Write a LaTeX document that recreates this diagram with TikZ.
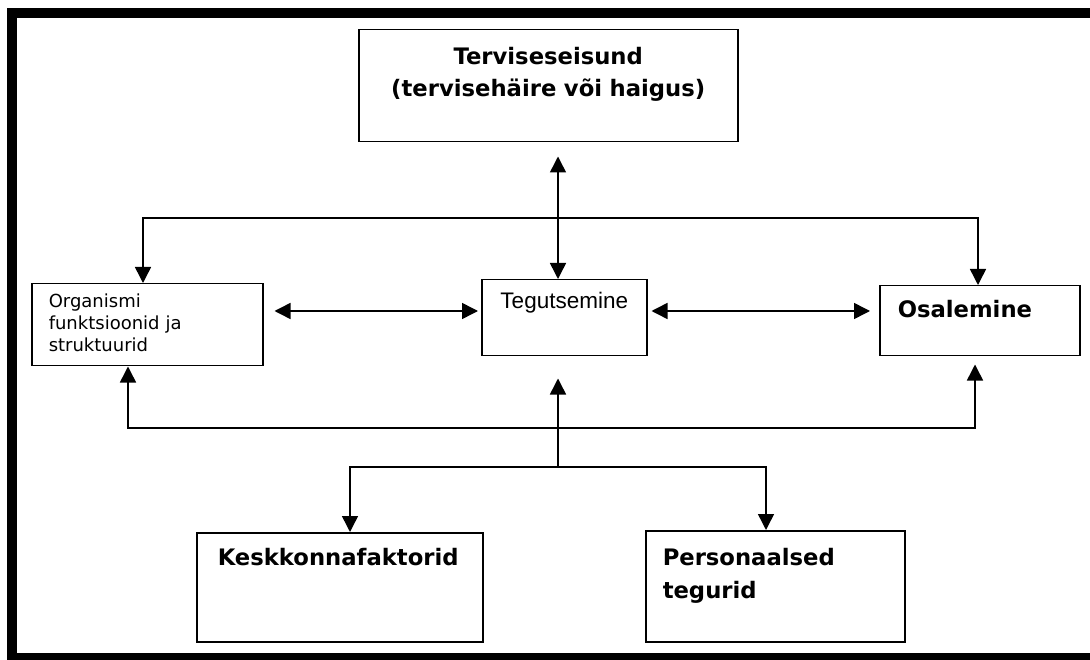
\documentclass[tikz,border=0pt]{standalone}
\usepackage{fontspec}
\setmainfont{DejaVu Sans}
\newfontfamily\arialfont{Liberation Sans}
\usetikzlibrary{arrows.meta,calc}

\tikzset{
  box/.style = {draw, line width=1.5pt, anchor=north west, inner ysep=0pt},
  big/.style = {font=\fontsize{22.7}{32}\selectfont\bfseries},
  link/.style = {line width=1.5pt},
  arr/.style = {link, -{Triangle[length=16pt,width=16pt]}},
  darr/.style = {link, {Triangle[length=16pt,width=16pt]}-{Triangle[length=16pt,width=16pt]}}
}

\begin{document}
\begin{tikzpicture}[x=1pt, y=-1pt]

\useasboundingbox (0,0) rectangle (1090,660);
\draw[line width=10pt] (11.5,13) rectangle (1100,658);

% boxes
\node (health) [box, big, align=center, inner xsep=5pt, text width=369pt,
  text height=35pt, text depth=77pt] at (358,29)
  {Terviseseisund\\(tervisehäire või haigus)};

\node (organ) [box, align=left, inner xsep=17pt, text width=197pt,
  text height=24pt, text depth=58pt, font=\fontsize{18}{22}\selectfont] at (31,283)
  {Organismi\\funktsioonid ja\\struktuurid};

\node (activity) [box, align=center, inner xsep=5pt, text width=155pt,
  text height=29pt, text depth=47pt, font=\arialfont\fontsize{22.5}{26}\selectfont] at (481,279)
  {Tegutsemine};

\node (particip) [box, big, align=left, inner xsep=18pt, text width=164pt,
  text height=32pt, text depth=38pt] at (879,285)
  {Osalemine};

\node (env) [box, big, align=left, inner xsep=21pt, text width=244pt,
  text height=33pt, text depth=76pt] at (196,532)
  {Keskkonnafaktorid};

\node (pers) [box, big, align=left, inner xsep=17pt, text width=225pt,
  text height=35pt, text depth=76pt, font=\fontsize{22.7}{33}\selectfont\bfseries] at (645,530)
  {Personaalsed\\tegurid};

% bends of the connectors
\coordinate (axis) at (558,218);
\coordinate (topL) at (143,218);
\coordinate (topR) at (978,218);
\coordinate (row) at (0,311);
\coordinate (lowL) at (128,428);
\coordinate (lowR) at (975,428);
\coordinate (footM) at (558,467);
\coordinate (footL) at (350,467);
\coordinate (footR) at (766,467);

% connectors
\draw[darr, shorten <=14pt] (health.south -| axis) -- (activity.north -| axis);
\draw[darr] (organ.north -| topL) -- (topL) -- (topR) -- (particip.north -| topR);

\draw[darr, shorten <=11pt, shorten >=3pt] (organ.east |- row) -- (activity.west |- row);
\draw[darr, shorten <=4pt, shorten >=9pt] (activity.east |- row) -- (particip.west |- row);

\draw[darr, shorten >=8pt] (organ.south -| lowL) -- (lowL) -- (lowR) -- (particip.south -| lowR);
\draw[arr, shorten >=22pt] (footM) -- (activity.south -| footM);
\draw[darr] (env.north -| footL) -- (footL) -- (footR) -- (pers.north -| footR);

\end{tikzpicture}
\end{document}
